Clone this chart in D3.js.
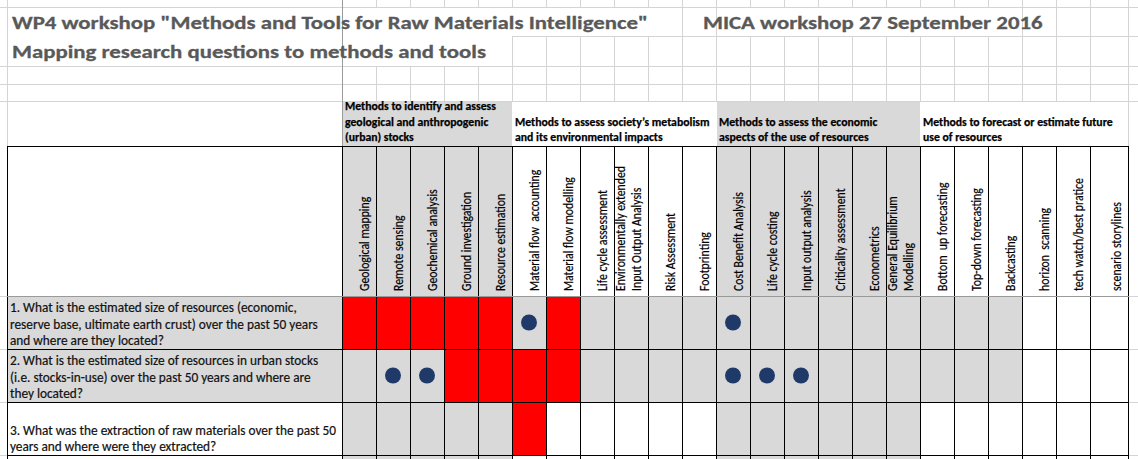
<!DOCTYPE html>
<html>
<head>
<meta charset="utf-8">
<script src="https://cdnjs.cloudflare.com/ajax/libs/d3/7.8.5/d3.min.js"></script>
<style>
  html, body { margin: 0; padding: 0; background: #fff; overflow: hidden; }
  svg { display: block; }
  text { font-family: Carlito, Calibri, Lato, "Open Sans", sans-serif; }
</style>
</head>
<body>
<svg id="chart" width="1138" height="459"></svg>
<script>
// ---- data ----
var titleLines = [
  "WP4 workshop \"Methods and Tools for Raw Materials Intelligence\"",
  "Mapping research questions to methods and tools"
];
var dateLine = "MICA workshop 27 September 2016";

var groupLabels = [
  ["Methods to identify and assess", "geological and anthropogenic", "(urban) stocks"],
  ["Methods to assess society\u2019s metabolism", "and its environmental impacts"],
  ["Methods to assess the economic", "aspects of the use of resources"],
  ["Methods to forecast or estimate future", "use of resources"]
];
var groupSizes = [5, 6, 6, 6];
var groupShaded = [true, false, true, false];

var methods = [
  ["Geological mapping"], ["Remote sensing"], ["Geochemical analysis"],
  ["Ground investigation"], ["Resource estimation"],
  ["Material flow  accounting"], ["Material flow modelling"], ["Life cycle assessment"],
  ["Environmentally extended", "Input Output Analysis"], ["Risk Assessment"], ["Footprinting"],
  ["Cost Benefit Analysis"], ["Life cycle costing"], ["Input output analysis"],
  ["Criticality assessment"], ["Econometrics"], ["General Equilibrium", "Modelling"],
  ["Bottom  up forecasting"], ["Top-down forecasting"], ["Backcasting"],
  ["horizon  scanning"], ["tech watch/best pratice"], ["scenario storylines"]
];

var questions = [
  ["1. What is the estimated size of resources (economic,",
   "reserve base, ultimate earth crust) over the past 50 years",
   "and where are they located?"],
  ["2. What is the estimated size of resources in urban stocks",
   "(i.e. stocks-in-use) over the past 50 years and where are",
   "they located?"],
  ["3. What was the extraction of raw materials over the past 50",
   "years and where were they extracted?"]
];
// method indexes marked red (strong link) and with a dot (partial link)
var redCells = [[0, 1, 2, 3, 4, 6], [3, 4, 5, 6], [5]];
var dotCells = [[5, 11], [1, 2, 11, 12, 13], []];
// rows highlighted grey up to this method index (-1: plain group shading)
var shadedThrough = [19, 19, -1];

// ---- sheet geometry ----
var W = 1138, H = 459;
var colA = [7, 342];          // question column
var tableRight = 1128;
var headTop = 101, labelTop = 146, bodyTop = 296, bodyBottom = 455;
var gridRows = [0, 6.5, 36, 66, 84, 101, 146];

var grey = "#d9d9d9", red = "#ff0000", navy = "#1f3a68";
var gridColor = "#d4d4d4";

var svg = d3.select("#chart");
var x = d3.scaleBand().domain(d3.range(methods.length))
  .range([colA[1], colA[1] + 34 * methods.length]);
var y = d3.scaleBand().domain(d3.range(questions.length)).range([bodyTop, bodyBottom]);

function colL(i) { return x(i); }
function colR(i) { return i === methods.length - 1 ? tableRight : x(i) + x.bandwidth(); }

var groupOf = [];
var groupStart = [];
groupSizes.forEach(function(n, g) {
  groupStart.push(groupOf.length);
  for (var k = 0; k < n; k++) groupOf.push(g);
});

// width ratio so that a sample string at a given size gets the sheet's width
function widthRatio(sample, size, target, weight) {
  var t = svg.append("text").attr("font-size", size).attr("font-weight", weight || "normal")
    .style("white-space", "pre").text(sample);
  var w = t.node().getComputedTextLength();
  t.remove();
  return target / w;
}
function squeeze(sel, ratio) {
  sel.each(function() {
    var L = this.getComputedTextLength();
    d3.select(this).attr("textLength", L * ratio).attr("lengthAdjust", "spacingAndGlyphs");
  });
}
// thicken strokes a touch, like the sheet's ClearType text
function ink(sel, color, w) {
  sel.attr("fill", color).attr("stroke", color).attr("stroke-width", w).attr("paint-order", "stroke");
}
var titleSize = 18.8, groupSize = 11.6, labelSize = 13.2, questionSize = 13.2;
var titleRatio = widthRatio(titleLines[0], titleSize, 636, "bold");
var groupRatio = widthRatio(groupLabels[0][0], groupSize, 151, "bold");
var labelRatio = widthRatio("Environmentally extended", labelSize, 125);
var questionRatio = Math.min(widthRatio(questions[1][0], questionSize, 315),
                             widthRatio(questions[2][0], questionSize, 326));

svg.append("rect").attr("width", W).attr("height", H).attr("fill", "#fff");

// ---- spreadsheet gridlines ----
var edges = [colA[0]].concat(d3.range(methods.length).map(colL)).concat([tableRight]);
var grid = svg.append("g").attr("stroke", gridColor).attr("stroke-width", 1).attr("shape-rendering", "crispEdges");

function hidden(xe, r) {
  if (r === 1) return (xe > colA[1] && xe < colR(9)) || (xe > colR(10) && xe < colR(19));
  if (r === 2) return xe > colA[1] && xe < colR(4);
  if (r === 5) return xe > colA[1] && xe < tableRight;
  return false;
}
for (var r = 0; r < gridRows.length - 1; r++) {
  edges.forEach(function(xe) {
    if (xe === colA[1] || hidden(xe, r)) return;
    grid.append("line").attr("x1", xe + 0.5).attr("x2", xe + 0.5)
      .attr("y1", gridRows[r]).attr("y2", gridRows[r + 1]);
  });
}
gridRows.slice(1, 6).forEach(function(gy, k) {
  grid.append("line").attr("x1", k === 1 ? colR(4) : 0).attr("x2", W)
    .attr("y1", gy + 0.5).attr("y2", gy + 0.5);
});
[bodyTop].concat(y.domain().map(function(i) { return y(i) + y.bandwidth(); })).forEach(function(gy) {
  grid.append("line").attr("x1", 0).attr("x2", colA[0]).attr("y1", gy + 0.5).attr("y2", gy + 0.5);
  grid.append("line").attr("x1", tableRight).attr("x2", W).attr("y1", gy + 0.5).attr("y2", gy + 0.5);
});
// freeze-pane divider
svg.append("line").attr("x1", colA[1] + 0.5).attr("x2", colA[1] + 0.5)
  .attr("y1", 0).attr("y2", labelTop).attr("stroke", "#9a9a9a").attr("shape-rendering", "crispEdges");

// ---- group header band ----
groupSizes.forEach(function(n, g) {
  var a = groupStart[g], b = a + n - 1;
  if (groupShaded[g]) {
    svg.append("rect").attr("x", colL(a) + 1).attr("y", headTop + 1)
      .attr("width", colR(b) - colL(a) - 1).attr("height", labelTop - headTop - 1).attr("fill", grey);
    // group shading carries down through the label row and body
    svg.append("rect").attr("x", colL(a)).attr("y", labelTop)
      .attr("width", colR(b) - colL(a)).attr("height", H - labelTop).attr("fill", grey);
  }
  var lines = groupLabels[g];
  svg.append("g").selectAll("text").data(lines).join("text")
    .attr("x", colL(a) + 3)
    .attr("y", function(d, i) { return labelTop - 5 - (lines.length - 1 - i) * 15.5; })
    .attr("font-size", groupSize).attr("font-weight", "bold")
    .call(ink, "#000", 0.25)
    .text(function(d) { return d; })
    .call(squeeze, groupRatio);
});

// ---- body cells ----
questions.forEach(function(q, r) {
  var top = y(r), h = y.bandwidth();
  var rowShade = shadedThrough[r] >= 0;
  svg.append("rect").attr("x", colA[0]).attr("y", top).attr("width", colA[1] - colA[0]).attr("height", h)
    .attr("fill", rowShade ? grey : "#fff");
  methods.forEach(function(m, c) {
    var fill;
    if (redCells[r].indexOf(c) >= 0) fill = red;
    else if (rowShade) fill = c <= shadedThrough[r] ? grey : "#fff";
    else fill = groupShaded[groupOf[c]] ? grey : "#fff";
    svg.append("rect").attr("x", colL(c)).attr("y", top)
      .attr("width", colR(c) - colL(c)).attr("height", h).attr("fill", fill);
  });
});

// ---- borders ----
var borders = svg.append("g").attr("stroke", "#000").attr("stroke-width", 1).attr("shape-rendering", "crispEdges");
borders.append("line").attr("x1", colA[0]).attr("x2", tableRight + 1).attr("y1", labelTop + 0.5).attr("y2", labelTop + 0.5);
edges.forEach(function(xe) {
  borders.append("line").attr("x1", xe + 0.5).attr("x2", xe + 0.5).attr("y1", labelTop).attr("y2", H);
});
y.domain().forEach(function(i) {
  var gy = y(i) + y.bandwidth();
  borders.append("line").attr("x1", colA[0]).attr("x2", tableRight + 1).attr("y1", gy + 0.5).attr("y2", gy + 0.5);
});
svg.append("line").attr("x1", colA[0]).attr("x2", tableRight + 1).attr("y1", bodyTop + 0.5).attr("y2", bodyTop + 0.5)
  .attr("stroke", "#9a9a9a").attr("shape-rendering", "crispEdges");

// ---- dots ----
questions.forEach(function(q, r) {
  svg.append("g").selectAll("circle").data(dotCells[r]).join("circle")
    .attr("cx", function(c) { return (colL(c) + colR(c)) / 2; })
    .attr("cy", y(r) + y.bandwidth() / 2)
    .attr("r", 8).attr("fill", navy);
});

// ---- method labels (rotated) ----
methods.forEach(function(lines, c) {
  svg.append("g").selectAll("text").data(lines).join("text")
    .attr("transform", function(d, i) {
      var bx = colR(c) - 7 - (lines.length - 1 - i) * 16;
      return "translate(" + bx + "," + (bodyTop - 5) + ") rotate(-90)";
    })
    .attr("font-size", labelSize)
    .call(ink, "#000", 0.2)
    .style("white-space", "pre")
    .text(function(d) { return d; })
    .call(squeeze, labelRatio);
});

// ---- questions ----
questions.forEach(function(lines, r) {
  var bottom = y(r) + y.bandwidth();
  svg.append("g").selectAll("text").data(lines).join("text")
    .attr("x", colA[0] + 3)
    .attr("y", function(d, i) { return bottom - 4 - (lines.length - 1 - i) * 16.5; })
    .attr("font-size", questionSize)
    .call(ink, "#111", 0.2)
    .text(function(d) { return d; })
    .call(squeeze, questionRatio);
});

// ---- titles ----
svg.append("g").selectAll("text").data(titleLines).join("text")
  .attr("x", 12).attr("y", function(d, i) { return i === 0 ? 28.5 : 58; })
  .attr("font-size", titleSize).attr("font-weight", "bold")
  .call(ink, "#595959", 0.3)
  .text(function(d) { return d; })
  .call(squeeze, titleRatio);
svg.append("text").attr("x", 703).attr("y", 28.5)
  .attr("font-size", titleSize).attr("font-weight", "bold")
  .call(ink, "#595959", 0.3)
  .text(dateLine)
  .call(squeeze, titleRatio);
</script>
</body>
</html>
